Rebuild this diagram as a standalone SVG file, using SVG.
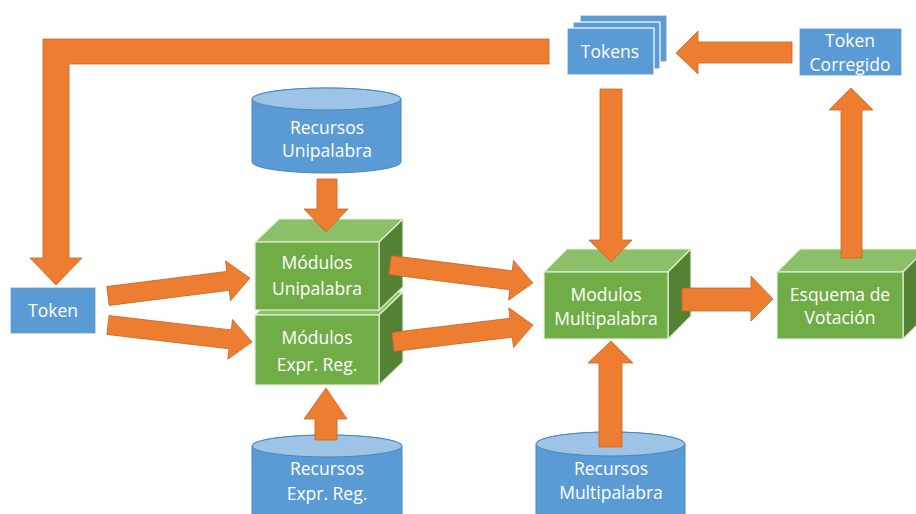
<svg xmlns="http://www.w3.org/2000/svg" width="916" height="514" viewBox="0 0 916 514">
<style>
.arr{fill:#ED7D31;stroke:#C9651F;stroke-width:0.8}
.box{fill:#5B9BD5;stroke:#ffffff;stroke-width:1.2}
.cylb{fill:#5B9BD5;stroke:#4A86C0;stroke-width:1}
.cylt{fill:#9DC3E6;stroke:#4A86C0;stroke-width:1}
.cf{fill:#70AD47;stroke:#E2F0D9;stroke-width:1.2}
.ct{fill:#8CC068;stroke:#E2F0D9;stroke-width:1.2}
.cr{fill:#548235;stroke:#E2F0D9;stroke-width:1.2}
text{font-family:"Open Sans","Liberation Sans",sans-serif;font-size:17.5px;fill:#ffffff;text-anchor:middle}
</style>
<rect width="916" height="514" fill="#ffffff"/>
<g id="tokens">
<rect class="box" x="580" y="15" width="87" height="47"/>
<rect class="box" x="573" y="22" width="87" height="47"/>
<rect class="box" x="567" y="28" width="87" height="47"/>
<text x="610" y="58">Tokens</text>
</g>
<g id="token-corregido">
<rect class="box" x="799" y="28" width="103" height="48"/>
<text x="850" y="47">Token</text>
<text x="850" y="71">Corregido</text>
</g>
<g id="token">
<rect class="box" x="10" y="287" width="86" height="47"/>
<text x="53" y="317">Token</text>
</g>
<g id="recursos-unipalabra">
<path class="cylb" d="M252,99 A74.5,11 0 0 1 401,99 L401,162 A74.5,11 0 0 1 252,162 Z"/>
<ellipse class="cylt" cx="326.5" cy="99" rx="74.5" ry="11"/>
<text x="327" y="134">Recursos</text>
<text x="327" y="157">Unipalabra</text>
</g>
<g id="modulos-expr">
<polygon class="ct" points="255,315 279,292 403,292 379,315"/>
<polygon class="cr" points="379,315 403,292 403,362 379,385"/>
<rect class="cf" x="255" y="315" width="124" height="70"/>
<text x="317" y="344">Módulos</text>
<text x="317" y="371">Expr. Reg.</text>
</g>
<g id="modulos-unipalabra">
<polygon class="ct" points="255,242 279,219 403,219 379,242"/>
<polygon class="cr" points="379,242 403,219 403,287 379,310"/>
<rect class="cf" x="255" y="242" width="124" height="68"/>
<text x="317" y="269">Módulos</text>
<text x="317" y="295">Unipalabra</text>
</g>
<g id="modulos-multipalabra">
<polygon class="ct" points="544,272 567,249 691,249 668,272"/>
<polygon class="cr" points="668,272 691,249 691,316 668,339"/>
<rect class="cf" x="544" y="272" width="124" height="67"/>
<text x="606" y="301">Modulos</text>
<text x="606" y="325">Multipalabra</text>
</g>
<g id="esquema">
<polygon class="ct" points="777,272 800,249 926,249 903,272"/>
<polygon class="cr" points="903,272 926,249 926,316 903,339"/>
<rect class="cf" x="777" y="272" width="126" height="67"/>
<text x="840" y="301">Esquema de</text>
<text x="840" y="324">Votación</text>
</g>
<g id="recursos-expr">
<path class="cylb" d="M252,446 A75,11 0 0 1 402,446 L402,530 L252,530 Z"/>
<ellipse class="cylt" cx="327" cy="446" rx="75" ry="11"/>
<text x="327" y="475">Recursos</text>
<text x="327" y="500">Expr. Reg.</text>
</g>
<g id="recursos-multipalabra">
<path class="cylb" d="M536,444 A74.5,12 0 0 1 685,444 L685,530 L536,530 Z"/>
<ellipse class="cylt" cx="610.5" cy="444" rx="74.5" ry="12"/>
<text x="611" y="475">Recursos</text>
<text x="611" y="499">Multipalabra</text>
</g>
<g id="connectors">
<polygon class="arr" points="43,39 549,39 549,64 69,64 69,258 82,258 56,285 30,258 43,258"/>
<polygon class="arr" points="792,42 698,42 698,31 676,53 698,74 698,63 792,63"/>
<polygon class="arr" points="600,89 622,89 622,240 632,240 611,262 589,240 600,240"/>
<polygon class="arr" points="682,288 751,288 751,276 773,299 751,321 751,311 682,311"/>
<polygon class="arr" points="841,258 841,110 829,110 851,88 873,110 862,110 862,258"/>
<polygon class="arr" points="317,179 337,179 337,209 348,209 326,232 304,209 317,209"/>
<polygon class="arr" points="315,440 315,419 304,419 326,388 347,419 337,419 337,440"/>
<polygon class="arr" points="599,447 599,363 588,363 611,341 633,363 622,363 622,447"/>
<polygon class="arr" transform="translate(108,296) rotate(-7.2)" points="0,-9.5 121,-9.5 121,-20 143,0 121,20 121,9.5 0,9.5"/>
<polygon class="arr" transform="translate(108,325) rotate(6.7)" points="0,-9.5 123,-9.5 123,-20 145,0 123,20 123,9.5 0,9.5"/>
<polygon class="arr" transform="translate(390,265) rotate(7.2)" points="0,-9.5 122,-9.5 122,-20 144,0 122,20 122,9.5 0,9.5"/>
<polygon class="arr" transform="translate(393,342) rotate(-6.9)" points="0,-9.5 119,-9.5 119,-20 141,0 119,20 119,9.5 0,9.5"/>
</g>
</svg>
